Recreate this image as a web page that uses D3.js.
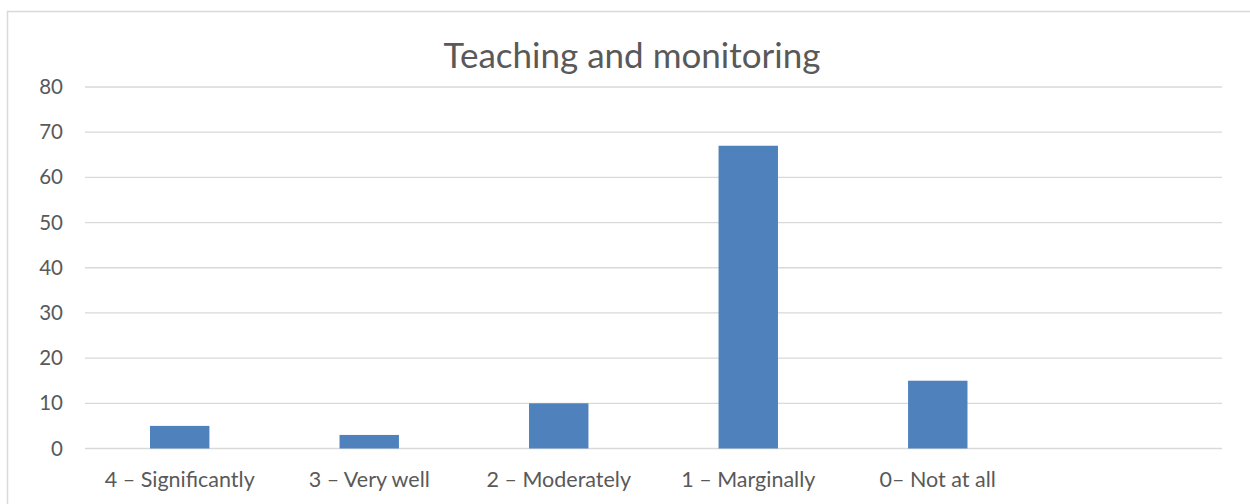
<!DOCTYPE html>
<html>
<head>
<meta charset="utf-8">
<script src="https://cdn.jsdelivr.net/npm/d3@7"></script>
<style>
  body { margin: 0; background: #fff; }
  svg { display: block; }
</style>
</head>
<body>
<svg id="chart" width="1250" height="504"></svg>
<script>
// data
const categories = ["4 \u2013 Significantly", "3 \u2013 Very well", "2 \u2013 Moderately", "1 \u2013 Marginally", "0\u2013 Not at all", ""];
const values = [5, 3, 10, 67, 15, null];
const yTicks = [0, 10, 20, 30, 40, 50, 60, 70, 80];
const title = "Teaching and monitoring";

let svg = d3.select("#chart"),
    margin = {top: 87, right: 28, bottom: 55.5, left: 85},
    width = svg.attr("width") - margin.left - margin.right,
    height = svg.attr("height") - margin.top - margin.bottom;

const font = "Lato, 'Open Sans', sans-serif";

// outer chart frame
svg.append("rect")
    .attr("x", 7.5).attr("y", 11.5)
    .attr("width", 1260).attr("height", 520)
    .attr("fill", "#fff")
    .attr("stroke", "#d9d9d9")
    .attr("stroke-width", 1.5);

let g = svg.append("g").attr("transform", "translate(" + margin.left + "," + margin.top + ")");

let x = d3.scaleBand().domain(categories.map((d, i) => i)).range([0, width]).paddingInner(0.6865).paddingOuter(0.343),
    xb = d3.scaleBand().domain(categories.map((d, i) => i)).range([0, width]),
    y = d3.scaleLinear().domain([0, 80]).range([height, 0]);

// gridlines
g.selectAll(".grid")
    .data(yTicks)
    .enter().append("line")
    .attr("x1", 0).attr("x2", width)
    .attr("y1", d => y(d)).attr("y2", d => y(d))
    .attr("stroke", "#d9d9d9")
    .attr("stroke-width", 1.3);

// y labels
g.append("g")
    .attr("transform", "translate(-22,0)")
    .call(d3.axisLeft(y).tickValues(yTicks).tickSize(0).tickPadding(0))
    .call(a => a.select(".domain").remove())
    .selectAll("text")
    .attr("fill", "#595959")
    .style("font", "20.5px " + font);

// bars
g.selectAll(".bar")
    .data(values.map((v, i) => ({i: i, v: v})).filter(d => d.v != null))
    .enter().append("rect")
    .attr("x", d => x(d.i))
    .attr("width", x.bandwidth())
    .attr("y", d => y(d.v))
    .attr("height", d => height - y(d.v))
    .attr("fill", "#4f81bd");

// x labels
g.append("g")
    .attr("transform", "translate(0," + height + ")")
    .call(d3.axisBottom(xb).tickSize(0).tickPadding(23).tickFormat(i => categories[i]))
    .call(a => a.select(".domain").remove())
    .selectAll("text")
    .attr("fill", "#595959")
    .style("font", "21.5px " + font);

// title
svg.append("text")
    .attr("x", 632)
    .attr("y", 68)
    .attr("text-anchor", "middle")
    .attr("fill", "#595959")
    .style("font", "35px " + font)
    .text(title);
</script>
</body>
</html>
